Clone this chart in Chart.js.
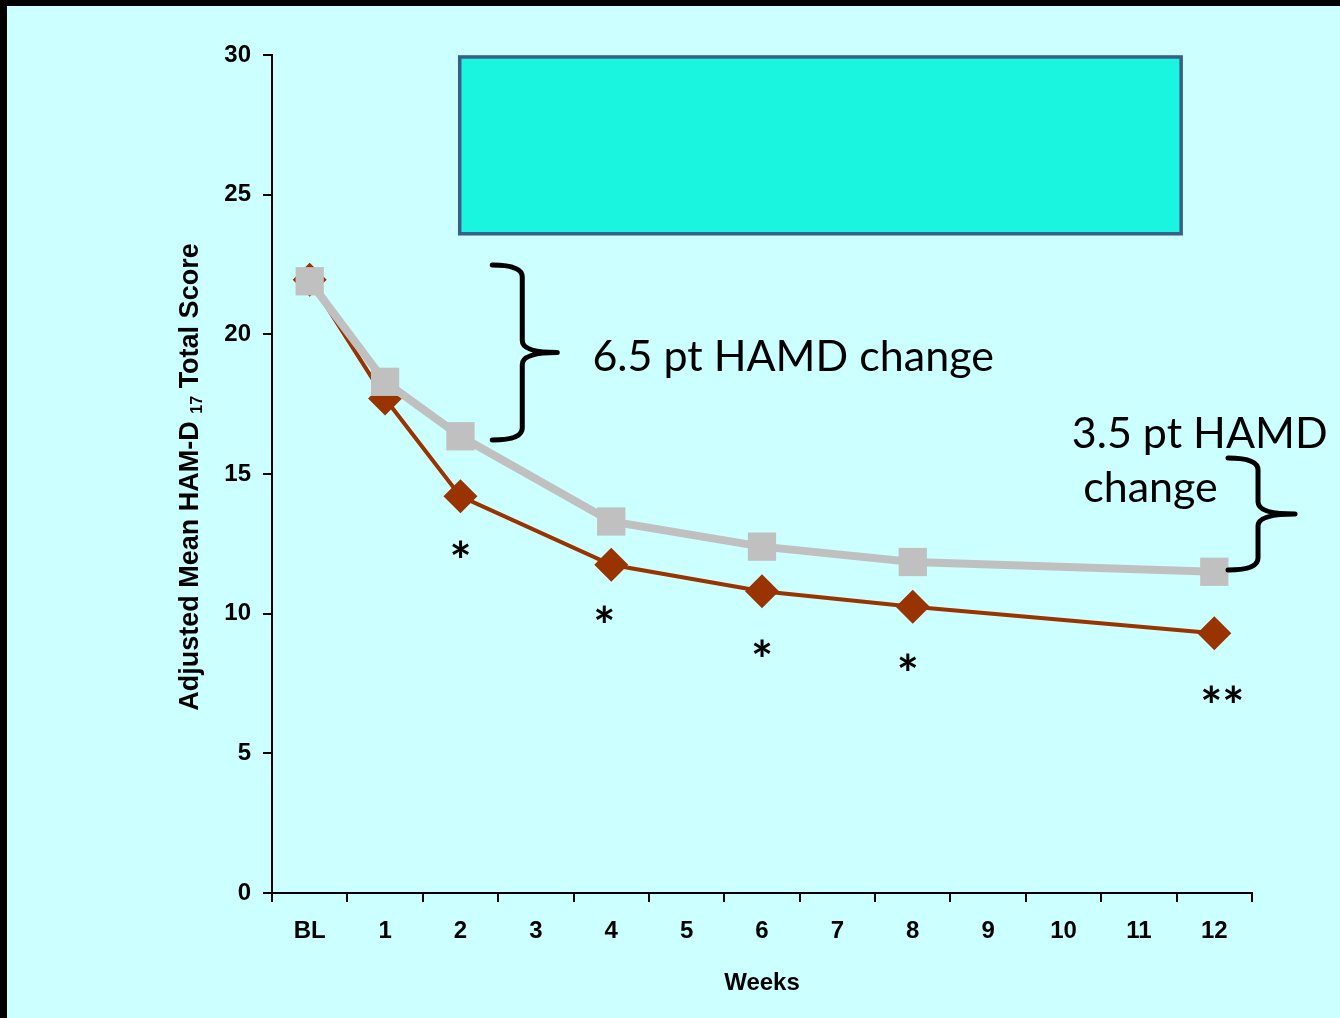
<!DOCTYPE html>
<html>
<head>
<meta charset="utf-8">
<script src="https://cdn.jsdelivr.net/npm/chart.js@4/dist/chart.umd.min.js"></script>
<style>
  html, body { margin: 0; padding: 0; background: #000; }
  #wrap { position: absolute; left: 7px; top: 6px; width: 1333px; height: 1012px; background: #ccffff; }
</style>
</head>
<body>
<div id="wrap"><canvas id="chart"></canvas></div>
<script>
// weeks on the x axis, null where no visit was scored
const weeks = ['BL', '1', '2', '3', '4', '5', '6', '7', '8', '9', '10', '11', '12'];
const comparatorScores = [21.9, 18.3, 16.35, null, 13.3, null, 12.4, null, 11.85, null, null, null, 11.5];
const activeScores = [21.95, 17.7, 14.2, null, 11.75, null, 10.8, null, 10.25, null, null, null, 9.3];
// significance marks under the active arm
const sigMarks = ['', '', '*', '', '*', '', '*', '', '*', '', '', '', '**'];
const yTicks = [0, 5, 10, 15, 20, 25, 30];

const TEXT_FONT = '"Lato", "Open Sans", sans-serif';

// little nudges for the asterisks, pixels from the point
const sigOffsets = { 2: [0, 56], 4: [-7, 52], 6: [0, 60], 8: [-5, 58], 12: [8, 64] };

function drawBrace(ctx, x, yTop, yBot, hook, tip) {
    const yMid = (yTop + yBot) / 2;
    const r = 12;
    ctx.beginPath();
    ctx.moveTo(x - hook, yTop);
    ctx.quadraticCurveTo(x, yTop, x, yTop + r);
    ctx.lineTo(x, yMid - r);
    ctx.quadraticCurveTo(x, yMid, x + tip, yMid);
    ctx.quadraticCurveTo(x, yMid, x, yMid + r);
    ctx.lineTo(x, yBot - r);
    ctx.quadraticCurveTo(x, yBot, x - hook, yBot);
    ctx.stroke();
}

const annotations = {
    id: 'annotations',
    afterDatasetsDraw(chart) {
        const ctx = chart.ctx;
        const xs = chart.scales.x, ys = chart.scales.y;
        const px = i => xs.getPixelForValue(i);
        const py = v => ys.getPixelForValue(v);
        ctx.save();

        // empty teal box at the top
        const bx0 = px(1.99), bx1 = px(11.56), by0 = py(29.93), by1 = py(23.6);
        ctx.fillStyle = '#1af5e0';
        ctx.fillRect(bx0, by0, bx1 - bx0, by1 - by0);
        ctx.strokeStyle = '#3a5e8a';
        ctx.lineWidth = 3.5;
        ctx.strokeRect(bx0, by0, bx1 - bx0, by1 - by0);

        // braces
        ctx.strokeStyle = '#000';
        ctx.lineWidth = 5;
        ctx.lineCap = 'round';
        ctx.lineJoin = 'round';
        drawBrace(ctx, px(2.82), py(22.48), py(16.22), 30, 35);
        drawBrace(ctx, px(12.58), py(15.57), py(11.56), 30, 37);

        // brace labels
        ctx.fillStyle = '#000';
        ctx.textAlign = 'left';
        ctx.textBaseline = 'alphabetic';
        ctx.font = '43px ' + TEXT_FONT;
        ctx.fillText('6.5 pt HAMD change', px(3.75), py(18.69));
        ctx.fillText('3.5 pt HAMD', px(10.11), py(15.93));
        ctx.fillText('change', px(10.26), py(14.0));

        // asterisks
        ctx.textAlign = 'center';
        ctx.font = 'bold 52px ' + TEXT_FONT;
        sigMarks.forEach((m, i) => {
            if (!m) return;
            const [dx, dy] = sigOffsets[i] || [0, 57];
            ctx.fillText(m, px(i) + dx, py(activeScores[i]) + dy + 28);
        });

        // y axis title with subscript
        const cx = 184, cy = ys.top + (ys.bottom - ys.top) / 2 + 3;
        const main = 'bold 27px "Liberation Sans", Arial, sans-serif';
        const sub = 'bold 16px "Liberation Sans", Arial, sans-serif';
        const parts = [['Adjusted Mean HAM-D ', main, 0], ['17', sub, 7], [' Total Score', main, 0]];
        let total = 0;
        parts.forEach(p => { ctx.font = p[1]; total += ctx.measureText(p[0]).width; });
        ctx.translate(cx, cy);
        ctx.rotate(-Math.PI / 2);
        ctx.textAlign = 'left';
        ctx.textBaseline = 'middle';
        let tx = -total / 2;
        parts.forEach(p => {
            ctx.font = p[1];
            ctx.fillText(p[0], tx, p[2]);
            tx += ctx.measureText(p[0]).width;
        });
        ctx.restore();
    }
};

const axisFont = { family: '"Liberation Sans", Arial, sans-serif', size: 24, weight: 'bold' };

new Chart(document.getElementById('chart'), {
    type: 'line',
    data: {
        labels: weeks,
        datasets: [
            {
                label: 'Comparator',
                data: comparatorScores,
                borderColor: '#c0c0c0',
                backgroundColor: '#c0c0c0',
                borderWidth: 8,
                pointStyle: 'rect',
                pointRadius: 20,
                pointBorderWidth: 0,
                spanGaps: true,
                tension: 0
            },
            {
                label: 'Active',
                data: activeScores,
                borderColor: '#993300',
                backgroundColor: '#993300',
                borderWidth: 4,
                pointStyle: 'rectRot',
                pointRadius: 17,
                pointBorderWidth: 0,
                spanGaps: true,
                tension: 0
            }
        ]
    },
    options: {
        responsive: true,
        maintainAspectRatio: false,
        animation: false,
        events: [],
        layout: { padding: { top: 49, right: 88, left: 0, bottom: 0 } },
        plugins: {
            legend: { display: false },
            tooltip: { enabled: false }
        },
        scales: {
            x: {
                offset: true,
                grid: { offset: true, drawOnChartArea: false, tickLength: 9, color: '#000', lineWidth: 2 },
                border: { color: '#000', width: 2 },
                ticks: { color: '#000', font: axisFont, padding: 15, maxRotation: 0, autoSkip: false },
                title: { display: true, text: 'Weeks', color: '#000', font: axisFont, padding: { top: 0, bottom: 20 } },
                afterFit(scale) { scale.height = 125; }
            },
            y: {
                min: 0,
                max: 30,
                afterBuildTicks(scale) { scale.ticks = yTicks.map(v => ({ value: v })); },
                grid: { drawOnChartArea: false, tickLength: 9, color: '#000', lineWidth: 2 },
                border: { color: '#000', width: 2 },
                ticks: { color: '#000', font: axisFont, padding: 12 },
                afterFit(scale) { scale.width = 265; }
            }
        }
    },
    plugins: [annotations]
});
</script>
</body>
</html>
